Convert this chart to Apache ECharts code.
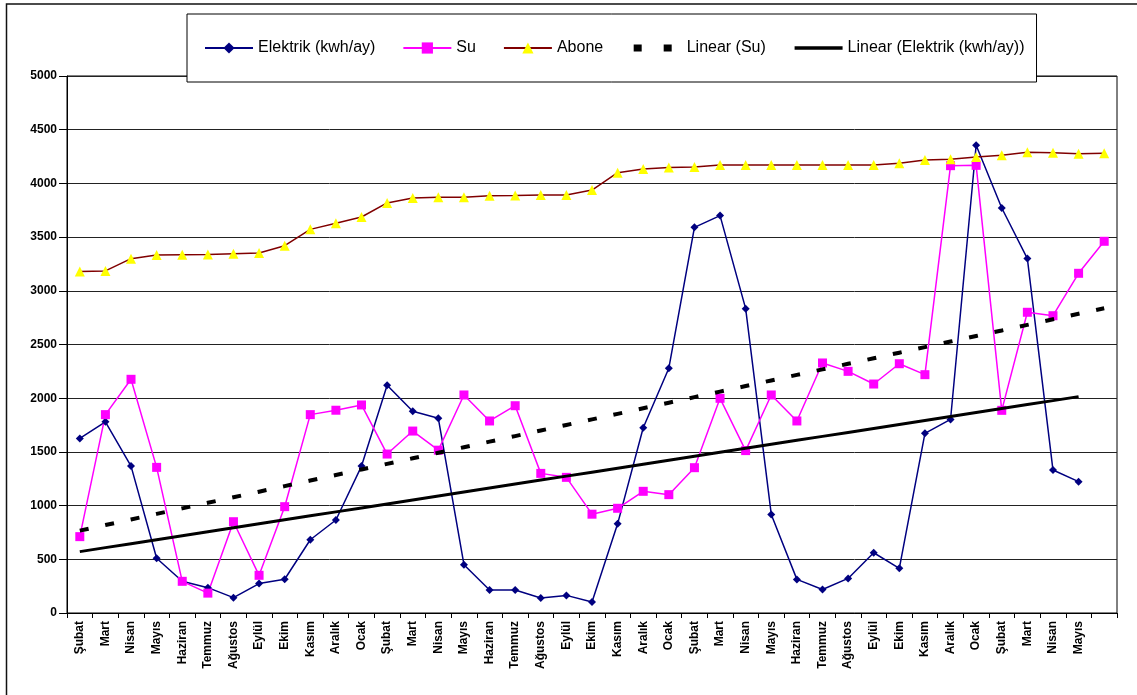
<!DOCTYPE html>
<html>
<head>
<meta charset="utf-8">
<script src="https://cdn.jsdelivr.net/npm/echarts@6/dist/echarts.min.js"></script>
<style>
  html, body { margin: 0; padding: 0; background: #fff; }
  #chart { width: 1137px; height: 695px; }
</style>
</head>
<body>
<div id="chart"></div>
<script>
// aylar (son kategori boş, Abone / Su için)
const months = [
  "Şubat", "Mart", "Nisan", "Mayıs", "Haziran", "Temmuz", "Ağustos", "Eylül", "Ekim", "Kasım", "Aralık", "Ocak",
  "Şubat", "Mart", "Nisan", "Mayıs", "Haziran", "Temmuz", "Ağustos", "Eylül", "Ekim", "Kasım", "Aralık", "Ocak",
  "Şubat", "Mart", "Nisan", "Mayıs", "Haziran", "Temmuz", "Ağustos", "Eylül", "Ekim", "Kasım", "Aralık", "Ocak",
  "Şubat", "Mart", "Nisan", "Mayıs", ""
];
const elektrik = [
  1625, 1780, 1368, 510, 295, 236, 143, 274, 314, 682, 866, 1368,
  2121, 1879, 1813, 450, 214, 214, 140, 164, 103, 830, 1725, 2279,
  3591, 3700, 2834, 918, 313, 219, 322, 561, 416, 1673, 1802, 4355,
  3771, 3300, 1331, 1223
];
const su = [
  711, 1847, 2176, 1356, 295, 185, 850, 351, 990, 1847, 1888, 1937,
  1480, 1694, 1516, 2030, 1788, 1930, 1300, 1263, 920, 975, 1133, 1102,
  1353, 1999, 1512, 2030, 1788, 2328, 2250, 2132, 2321, 2219, 4165, 4168,
  1887, 2800, 2768, 3163, 3461
];
const abone = [
  3180, 3185, 3299, 3333, 3335, 3337, 3345, 3352, 3420, 3572, 3628, 3687,
  3818, 3864, 3870, 3870, 3886, 3888, 3892, 3892, 3938, 4100, 4134, 4147,
  4153, 4171, 4171, 4171, 4171, 4171, 4171, 4171, 4187, 4218, 4224, 4246,
  4261, 4289, 4286, 4277, 4280
];

// Excel tarzı doğrusal eğilim çizgisi (en küçük kareler)
function linearTrend(values) {
  const n = values.length;
  let sx = 0, sy = 0, sxy = 0, sxx = 0;
  values.forEach((v, i) => { sx += i; sy += v; sxy += i * v; sxx += i * i; });
  const b = (n * sxy - sx * sy) / (n * sxx - sx * sx);
  const a = (sy - b * sx) / n;
  return values.map((v, i) => +(a + b * i).toFixed(1));
}

const font = "'Liberation Sans', Arial, sans-serif";
const noMarker = { color: "rgba(0,0,0,0)", borderColor: "rgba(0,0,0,0)", borderWidth: 0 };
const chart = echarts.init(document.getElementById("chart"));

const options = {
  animation: false,
  backgroundColor: "#fff",
  textStyle: { fontFamily: font, color: "#000" },
  graphic: [
    {
      type: "rect",
      shape: { x: 6.5, y: 4, width: 1400, height: 1000 },
      style: { fill: "none", stroke: "#111", lineWidth: 1.5 },
      silent: true
    }
  ],
  legend: {
    left: 187,
    top: 14,
    padding: [26, 12, 26, 17],
    itemGap: 27,
    itemWidth: 48,
    itemHeight: 14,
    backgroundColor: "#fff",
    borderColor: "#000",
    borderWidth: 1,
    borderRadius: 0,
    textStyle: { fontFamily: font, fontSize: 16, color: "#000" },
    data: [
      "Elektrik (kwh/ay)",
      "Su",
      "Abone",
      {
        name: "Linear (Su)",
        itemStyle: noMarker,
        lineStyle: { width: 7, type: [8, 22], cap: "butt" }
      },
      {
        name: "Linear (Elektrik (kwh/ay))",
        itemStyle: noMarker,
        lineStyle: { width: 3.5 }
      }
    ]
  },
  grid: {
    left: 67,
    right: 20,
    top: 76,
    bottom: 82,
    show: true,
    borderColor: "#000",
    borderWidth: 1
  },
  xAxis: {
    type: "category",
    data: months,
    boundaryGap: true,
    axisLine: { lineStyle: { color: "#000", width: 1 } },
    axisTick: { show: true, length: 5, interval: 0, lineStyle: { color: "#000" } },
    axisLabel: {
      interval: 0,
      rotate: 90,
      margin: 8,
      fontFamily: font,
      fontSize: 12,
      fontWeight: "bold",
      color: "#000"
    },
    splitLine: { show: false }
  },
  yAxis: {
    type: "value",
    min: 0,
    max: 5000,
    interval: 500,
    axisLine: { show: true, lineStyle: { color: "#000", width: 1 } },
    axisTick: { show: true, length: 8, lineStyle: { color: "#000" } },
    axisLabel: {
      margin: 10,
      fontFamily: font,
      fontSize: 12,
      fontWeight: "bold",
      color: "#000",
      formatter: (v) => String(v)
    },
    splitLine: { show: true, lineStyle: { color: "#222", width: 1 } }
  },
  series: [
    {
      name: "Elektrik (kwh/ay)",
      type: "line",
      data: elektrik,
      symbol: "diamond",
      symbolSize: 8,
      itemStyle: { color: "#000080" },
      lineStyle: { color: "#000080", width: 1.5 },
      z: 3
    },
    {
      name: "Su",
      type: "line",
      data: su,
      symbol: "rect",
      symbolSize: 9,
      itemStyle: { color: "#FF00FF" },
      lineStyle: { color: "#FF00FF", width: 1.5 },
      z: 3
    },
    {
      name: "Abone",
      type: "line",
      data: abone,
      symbol: "triangle",
      symbolSize: 10,
      itemStyle: { color: "#FFFF00" },
      lineStyle: { color: "#800000", width: 1.5 },
      z: 3
    },
    {
      name: "Linear (Su)",
      type: "line",
      data: linearTrend(su),
      symbol: "none",
      itemStyle: { color: "#000" },
      lineStyle: { color: "#000", width: 4, type: [9, 17], cap: "butt" },
      z: 4
    },
    {
      name: "Linear (Elektrik (kwh/ay))",
      type: "line",
      data: linearTrend(elektrik),
      symbol: "none",
      itemStyle: { color: "#000" },
      lineStyle: { color: "#000", width: 3 },
      z: 4
    }
  ]
};

chart.setOption(options);
</script>
</body>
</html>
